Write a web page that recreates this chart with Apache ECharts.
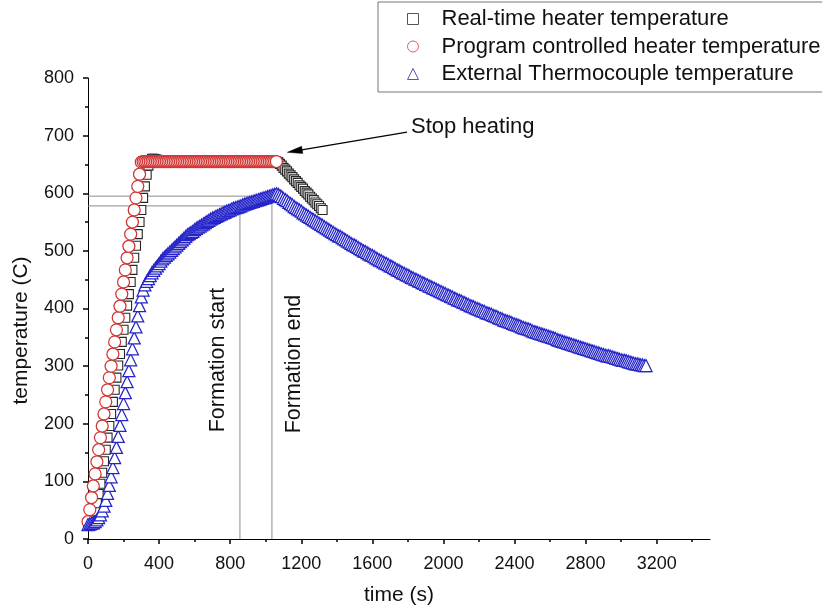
<!DOCTYPE html>
<html>
<head>
<meta charset="utf-8">
<script src="https://cdn.jsdelivr.net/npm/echarts@6/dist/echarts.min.js"></script>
<style>
html,body{margin:0;padding:0;background:#fff;}
#chart{width:822px;height:611px;}
</style>
</head>
<body>
<div id="chart"></div>
<script>
// ---------------- data ----------------
const sampleInterval = 10; // seconds between recorded samples

const seriesNames = [
  'Real-time heater temperature',
  'Program controlled heater temperature',
  'External Thermocouple temperature'
];

// Real-time heater temperature, t = 0 .. 1320 s
const heaterReal = [
  25,27,31,38,48,62,78,96,115,135,
  155,176,196,217,238,259,280,301,321,342,
  363,384,405,425,446,467,488,509,529,550,
  571,592,612,632,648,657,660,660,659,658,
  657,656,655,655,655,655,655,655,655,655,
  655,655,655,655,655,655,655,655,655,655,
  655,655,655,655,655,655,655,655,655,655,
  655,655,655,655,655,655,655,655,655,655,
  655,655,655,655,655,655,655,655,655,655,
  655,655,655,655,655,655,655,655,655,655,
  655,655,655,655,655,655,655,654,651,648,
  644,641,638,634,631,628,624,621,618,614,
  611,608,604,601,598,594,591,588,584,581,
  578,574,571
];

// Program controlled heater temperature, t = 0 .. 1060 s
const heaterProgram = [
  30,51,72,92,113,134,155,176,196,217,
  238,259,280,300,321,342,363,384,404,425,
  446,467,488,508,529,550,571,592,612,633,
  654,655,655,655,655,655,655,655,655,655,
  655,655,655,655,655,655,655,655,655,655,
  655,655,655,655,655,655,655,655,655,655,
  655,655,655,655,655,655,655,655,655,655,
  655,655,655,655,655,655,655,655,655,655,
  655,655,655,655,655,655,655,655,655,655,
  655,655,655,655,655,655,655,655,655,655,
  655,655,655,655,655,655,655
];

// External thermocouple temperature, t = 0 .. 3140 s
const thermocouple = [
  25,26,27,28,30,33,37,42,49,57,
  67,79,93,108,124,141,159,178,197,216,
  235,254,273,292,311,330,349,368,387,405,
  420,432,441,447,452,457,462,466,470,474,
  478,482,486,489,492,495,498,501,504,507,
  510,513,516,519,522,525,528,530,532,534,
  537,539,541,543,545,547,549,551,553,555,
  557,558,560,561,563,564,566,567,569,570,
  571,573,574,575,576,577,578,580,581,582,
  583,584,585,586,587,588,589,590,591,592,
  593,594,595,596,597,598,599,598,596,594,
  591,589,587,584,582,580,577,575,573,571,
  569,566,564,562,560,558,556,554,552,550,
  548,546,544,542,540,538,536,534,532,530,
  528,526,525,523,521,519,517,515,513,511,
  510,508,506,504,502,500,499,497,495,493,
  492,490,488,486,484,483,481,479,478,476,
  474,473,471,469,467,466,464,462,461,459,
  458,456,454,453,451,450,448,447,445,444,
  442,441,439,438,436,435,433,432,430,429,
  427,426,424,423,421,420,418,417,415,414,
  413,411,410,408,407,405,404,403,401,400,
  399,397,396,395,393,392,391,390,388,387,
  386,384,383,382,380,379,378,377,376,374,
  373,372,371,370,368,367,366,365,364,363,
  361,360,359,358,357,356,355,354,353,352,
  351,350,349,348,346,345,344,343,342,341,
  340,339,338,337,336,335,334,333,332,331,
  330,329,328,327,326,325,324,323,322,321,
  320,319,318,318,317,316,315,314,313,312,
  311,310,310,309,308,307,306,305,304,304,
  303,302,302,301,301
];

// Formation markers [time (s), temperature (C)]
const formationStart = [855, 578];
const formationEnd = [1035, 595];
// "Stop heating" arrow: tail and head [time, temperature]
const stopArrowTail = [1795, 706];
const stopArrowHead = [1122, 671];

// Axis ticks
const xMajorTicks = [0, 400, 800, 1200, 1600, 2000, 2400, 2800, 3200];
const xMax = 3500;
const yMax = 800;
const yInterval = 100;

// ---------------- chart ----------------
const FONT = '"Liberation Sans", Arial, sans-serif';
const toPairs = arr => arr.map((v, i) => [i * sampleInterval, v]);

const chart = echarts.init(document.getElementById('chart'), null, {renderer: 'canvas'});

const option = {
  backgroundColor: '#ffffff',
  animation: false,
  textStyle: {fontFamily: FONT},
  grid: {left: 88, right: 112, top: 78, bottom: 70, containLabel: false},
  legend: {
    orient: 'vertical',
    left: 378,
    top: 2,
    padding: [6, 3, 7, 29],
    itemGap: 5.5,
    itemWidth: 11,
    itemHeight: 11,
    borderColor: '#777',
    borderWidth: 1,
    textStyle: {fontSize: 22, color: '#111', fontFamily: FONT, lineHeight: 22, padding: [0, 0, 0, 18]},
    data: [
      {name: seriesNames[0], icon: 'rect', itemStyle: {color: '#fff', borderColor: '#555', borderWidth: 1}},
      {name: seriesNames[1], icon: 'circle', itemStyle: {color: '#fff', borderColor: '#d86060', borderWidth: 1}},
      {name: seriesNames[2], icon: 'triangle', itemStyle: {color: '#fff', borderColor: '#5555c0', borderWidth: 1}}
    ]
  },
  xAxis: {
    type: 'value',
    min: 0,
    max: xMax,
    interval: 400,
    name: 'time (s)',
    nameLocation: 'middle',
    nameGap: 46,
    nameTextStyle: {fontSize: 21, color: '#111', fontFamily: FONT},
    axisLine: {show: true, lineStyle: {color: '#000', width: 1}},
    axisTick: {show: true, length: 5, customValues: xMajorTicks, lineStyle: {color: '#000', width: 1.5}},
    minorTick: {show: true, splitNumber: 2, length: 3, lineStyle: {color: '#000', width: 1.5}},
    axisLabel: {customValues: xMajorTicks, formatter: v => String(v), fontSize: 18, color: '#111', margin: 16, fontFamily: FONT},
    splitLine: {show: false},
    minorSplitLine: {show: false}
  },
  yAxis: {
    type: 'value',
    min: 0,
    max: yMax,
    interval: yInterval,
    name: 'temperature (C)',
    nameLocation: 'middle',
    nameGap: 56,
    nameTextStyle: {fontSize: 21, color: '#111', fontFamily: FONT, padding: [0, 44, 0, 0]},
    axisLine: {show: true, lineStyle: {color: '#000', width: 1}},
    axisTick: {show: true, length: 5, lineStyle: {color: '#000', width: 1.5}},
    minorTick: {show: true, splitNumber: 2, length: 3, lineStyle: {color: '#000', width: 1.5}},
    axisLabel: {fontSize: 18, color: '#111', margin: 14, fontFamily: FONT},
    splitLine: {show: false},
    minorSplitLine: {show: false}
  },
  series: [
    {
      name: 'formationStartGuide',
      type: 'line',
      silent: true,
      symbol: 'none',
      z: 1,
      lineStyle: {color: '#8c8c8c', width: 1},
      data: [[0, formationStart[1]], [formationStart[0], formationStart[1]], [formationStart[0], 0]]
    },
    {
      name: 'formationEndGuide',
      type: 'line',
      silent: true,
      symbol: 'none',
      z: 1,
      lineStyle: {color: '#8c8c8c', width: 1},
      data: [[0, formationEnd[1]], [formationEnd[0], formationEnd[1]], [formationEnd[0], 0]]
    },
    {
      name: seriesNames[0],
      type: 'scatter',
      symbol: 'rect',
      symbolSize: 9,
      z: 2,
      itemStyle: {color: '#ffffff', borderColor: '#262626', borderWidth: 1.1, opacity: 1},
      data: toPairs(heaterReal)
    },
    {
      name: seriesNames[1],
      type: 'scatter',
      symbol: 'circle',
      symbolSize: 12,
      z: 3,
      itemStyle: {color: '#ffffff', borderColor: '#d23434', borderWidth: 1.25, opacity: 1},
      data: toPairs(heaterProgram)
    },
    {
      name: seriesNames[2],
      type: 'scatter',
      symbol: 'triangle',
      symbolSize: 12,
      z: 4,
      itemStyle: {color: '#ffffff', borderColor: '#2424c8', borderWidth: 1.25, opacity: 1},
      data: toPairs(thermocouple)
    }
  ],
  graphic: [
    {
      type: 'text',
      x: 411, y: 127,
      style: {text: 'Stop heating', font: '22px ' + FONT, fill: '#111', textAlign: 'left', textVerticalAlign: 'middle'}
    },
    {
      type: 'text',
      x: 218, y: 360,
      rotation: Math.PI / 2,
      style: {text: 'Formation start', font: '21.5px ' + FONT, fill: '#111', textAlign: 'center', textVerticalAlign: 'middle'}
    },
    {
      type: 'text',
      x: 294, y: 364,
      rotation: Math.PI / 2,
      style: {text: 'Formation end', font: '21.5px ' + FONT, fill: '#111', textAlign: 'center', textVerticalAlign: 'middle'}
    }
  ]
};

chart.setOption(option);

// Arrow for "Stop heating", placed through the chart's own coordinate conversion
const tailPx = chart.convertToPixel({gridIndex: 0}, stopArrowTail);
const headPx = chart.convertToPixel({gridIndex: 0}, stopArrowHead);
const dx = headPx[0] - tailPx[0], dy = headPx[1] - tailPx[1];
const len = Math.sqrt(dx * dx + dy * dy);
const ux = dx / len, uy = dy / len;
const headLen = 15, headHalf = 3.6;
const bx = headPx[0] - ux * headLen, by = headPx[1] - uy * headLen;
chart.setOption({
  graphic: [
    {
      id: 'arrowLine', type: 'line', z: 10,
      shape: {x1: tailPx[0], y1: tailPx[1], x2: bx + ux * 2, y2: by + uy * 2},
      style: {stroke: '#000', lineWidth: 1.2}
    },
    {
      id: 'arrowHead', type: 'polygon', z: 10,
      shape: {points: [[headPx[0], headPx[1]], [bx - uy * headHalf, by + ux * headHalf], [bx + uy * headHalf, by - ux * headHalf]]},
      style: {fill: '#000', stroke: '#000', lineWidth: 0.5}
    }
  ]
});
</script>
</body>
</html>
